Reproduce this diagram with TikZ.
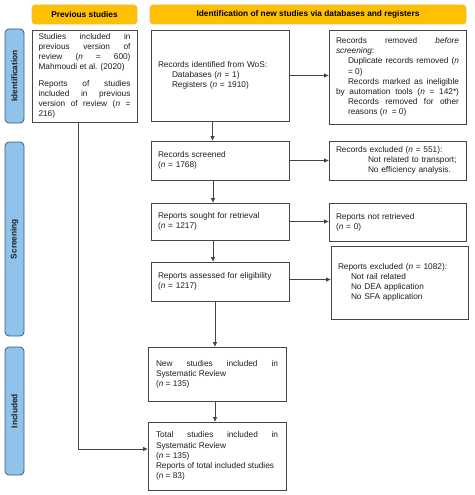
\documentclass[tikz,border=0pt]{standalone}
\usepackage{fontspec}
\setmainfont{Liberation Sans}
\usetikzlibrary{arrows.meta,calc}
\definecolor{hdrfill}{RGB}{254,192,0}
\definecolor{hdrdraw}{RGB}{240,190,70}
\definecolor{sidefill}{RGB}{143,195,234}
\definecolor{sidedraw}{RGB}{65,90,120}
\definecolor{boxdraw}{RGB}{70,70,70}
\definecolor{txt}{RGB}{30,30,30}
\newcommand{\fs}{\fontsize{8.3}{10.1}\selectfont}
\tikzset{
  hdr/.style={fill=hdrfill, draw=hdrdraw, line width=0.6pt, rounded corners=3pt, minimum height=19pt, inner sep=0pt, font=\fs\bfseries, text=black},
  side/.style={fill=sidefill, draw=sidedraw, line width=0.8pt, rounded corners=4pt, minimum width=19pt, inner sep=0pt, font=\fs\bfseries, text=txt},
  pbox/.style={draw=boxdraw, line width=0.8pt, inner ysep=0pt, inner xsep=7pt, font=\fs, text=txt, align=left, text width=124pt},
  jbox/.style={pbox, align=justify},
  arr/.style={draw=boxdraw, line width=0.8pt, -{Triangle[length=4.5pt,width=4pt]}},
  ln/.style={draw=boxdraw, line width=0.8pt}
}
\begin{document}
\begin{tikzpicture}[x=1pt,y=-1pt]
\useasboundingbox[fill=white] (0,0) rectangle (474,495);
% headers
\node[hdr, minimum width=105pt] (hprev) at (84.5,14.5) {Previous studies};
\node[hdr, minimum width=316pt] (hnew) at (308,14.5) {Identification of new studies via databases and registers};
% side labels
\node[side, minimum height=94pt] (sident) at (14.5,76) {};
\node[rotate=90, font=\fs\bfseries, text=txt] (tident) at (sident.center) {Identification};
\node[side, minimum height=194pt] (sscreen) at (14.5,239) {};
\node[rotate=90, font=\fs\bfseries, text=txt] (tscreen) at (sscreen.center) {Screening};
\node[side, minimum height=128pt] (sincl) at (14.5,411) {};
\node[rotate=90, font=\fs\bfseries, text=txt] (tincl) at (sincl.center) {Included};
% boxes
\node[jbox, text width=92pt, inner xsep=6.5pt, minimum height=92pt] (prev) at (84.5,76)
 {Studies included in\linebreak previous version of\linebreak review (\textit{n} = 600)\linebreak Mahmoudi et al. (2020)\par\vspace{7pt}Reports of studies\linebreak included in previous\linebreak version of review (\textit{n} =\linebreak 216)};
\node[pbox, minimum height=91pt] (ident) at (220,75.5)
 {Records identified from WoS:\\\hspace*{14pt}Databases (\textit{n} = 1)\\\hspace*{14pt}Registers (\textit{n} = 1910)};
\node[jbox, text width=123pt, minimum height=94pt] (removed) at (397.5,77)
 {Records removed \textit{before}\linebreak\textit{screening}:\par
  \hspace*{12pt}Duplicate records removed (\textit{n}\linebreak\hspace*{12pt}= 0)\par
  {\parfillskip=0pt\relax\hspace*{12pt}Records marked as ineligible\linebreak by automation tools (\textit{n} = 142*)\par}
  \hspace*{12pt}Records removed for other\linebreak\hspace*{12pt}reasons (\textit{n}\ \ = 0)};
\node[pbox, minimum height=39pt] (screened) at (220,160.5)
 {Records screened\\(\textit{n} = 1768)};
\node[pbox, text width=123pt, minimum height=39pt] (excluded) at (397.5,160.5)
 {Records excluded (\textit{n} = 551):\\\hspace*{32pt}Not related to transport;\\\hspace*{32pt}No efficiency analysis.};
\node[pbox, minimum height=37pt] (sought) at (220,221.5)
 {Reports sought for retrieval\\(\textit{n} = 1217)};
\node[pbox, text width=123pt, minimum height=38pt] (notret) at (397.5,222)
 {Reports not retrieved\\(\textit{n} = 0)};
\node[pbox, minimum height=39pt] (assessed) at (220,281.5)
 {Reports assessed for eligibility\\(\textit{n} = 1217)};
\node[pbox, text width=123pt, minimum height=73pt] (repexcl) at (399.5,282.5)
 {Reports excluded (\textit{n} = 1082):\\\hspace*{13pt}Not rail related\\\hspace*{13pt}No DEA application\\\hspace*{13pt}No SFA application};
\node[jbox, text width=122pt, inner xsep=8pt, minimum height=54pt] (newst) at (217,374)
 {New studies included in\linebreak Systematic Review\par(\textit{n} = 135)};
\node[jbox, text width=122pt, inner xsep=8pt, minimum height=68pt] (total) at (217,456)
 {Total studies included in\linebreak Systematic Review\par(\textit{n} = 135)\par Reports of total included studies\par(\textit{n} = 83)};
% connectors
\draw[arr] ([xshift=-7.5pt]ident.south) -- ([xshift=-7.5pt]ident.south |- screened.north);
\draw[arr] (ident.east) -- (removed.west |- ident.east);
\draw[arr] ([xshift=-7pt]screened.south) -- ([xshift=-7pt]screened.south |- sought.north);
\draw[arr] (screened.east) -- (excluded.west |- screened.east);
\draw[arr] ([xshift=-7pt]sought.south) -- ([xshift=-7pt]sought.south |- assessed.north);
\draw[arr] (sought.east) -- (notret.west |- sought.east);
\draw[arr] ([xshift=-5pt]assessed.south) -- ([xshift=-5pt]assessed.south |- newst.north);
\draw[arr] ([yshift=2pt]assessed.east) -- ([yshift=2pt]repexcl.west |- assessed.east);
\draw[arr] ([xshift=-2pt]newst.south) -- ([xshift=-2pt]newst.south |- total.north);
\draw[arr] ([xshift=-6.5pt]prev.south) |- ([yshift=7pt]total.west);
\end{tikzpicture}
\end{document}
